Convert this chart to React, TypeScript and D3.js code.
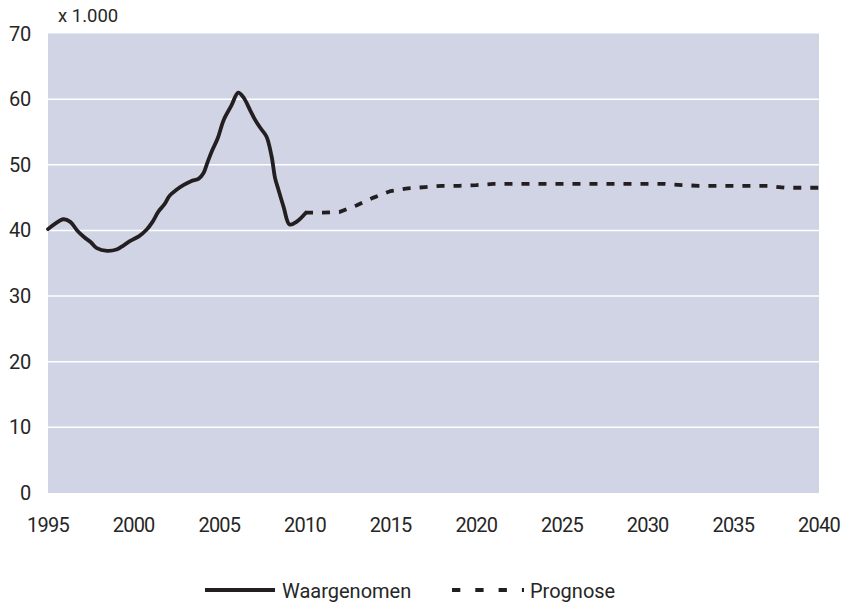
import { useEffect, useRef } from 'react';
import * as d3 from 'd3';

const observedYears = [
    1995.0, 1995.4, 1995.9, 1996.3, 1996.7, 1997.1, 1997.5, 1997.85, 1998.45, 1999.0,
    1999.4, 1999.8, 2000.3, 2000.75, 2001.1, 2001.45, 2001.8, 2002.1, 2002.5, 2002.9,
    2003.35, 2003.8, 2004.07, 2004.3, 2004.55, 2004.9, 2005.25, 2005.7, 2006.1, 2006.4,
    2006.8, 2007.1, 2007.4, 2007.75, 2008.05, 2008.25, 2008.45, 2008.75, 2009.1, 2009.5,
    2010.05,
];
const observedValues = [
    40.2, 41.0, 41.7, 41.3, 40.0, 39.0, 38.2, 37.3, 36.9, 37.1,
    37.7, 38.4, 39.1, 40.1, 41.3, 42.9, 44.0, 45.3, 46.2, 46.9,
    47.5, 47.9, 48.7, 50.3, 52.0, 54.0, 56.8, 59.0, 61.0, 60.3,
    58.3, 56.8, 55.6, 54.3, 51.3, 48.0, 46.2, 43.6, 40.9, 41.3,
    42.7,
];

const forecastYears = [
    2010, 2011, 2012, 2013, 2014, 2015, 2016, 2017, 2018, 2019,
    2020, 2021, 2022, 2023, 2024, 2025, 2026, 2027, 2028, 2029,
    2030, 2031, 2032, 2033, 2034, 2035, 2036, 2037, 2038, 2039,
    2040,
];
const forecastValues = [
    42.7, 42.7, 42.8, 43.8, 45.0, 46.0, 46.4, 46.6, 46.8, 46.8,
    46.9, 47.1, 47.1, 47.1, 47.1, 47.1, 47.1, 47.1, 47.1, 47.1,
    47.1, 47.1, 46.9, 46.8, 46.8, 46.8, 46.8, 46.8, 46.5, 46.5,
    46.5,
];

const yTicks = [0, 10, 20, 30, 40, 50, 60, 70];
const xTicks = [1995, 2000, 2005, 2010, 2015, 2020, 2025, 2030, 2035, 2040];
const legendLabels = ['Waargenomen', 'Prognose'];

const W = 841;
const H = 602;
const FONT = 'Roboto, "Noto Sans", sans-serif';
const TEXT = '#262626';
const LINE = '#231f20';

function App() {
    const ref = useRef(null);

    useEffect(() => {
        const svg = d3.select(ref.current);
        svg.selectAll('*').remove();

        const left = 48, right = 819, top = 33.5, bottom = 493;

        const x = d3.scaleLinear().domain([1995, 2040]).range([left, right]);
        const y = d3.scaleLinear().domain([0, 70]).range([bottom, top]);

        svg.append('rect')
            .attr('x', left).attr('y', top)
            .attr('width', right - left).attr('height', bottom - top)
            .attr('fill', '#d0d4e5');

        svg.append('g')
            .selectAll('line')
            .data(yTicks.slice(1, -1))
            .enter()
            .append('line')
            .attr('x1', left).attr('x2', right)
            .attr('y1', (d) => y(d)).attr('y2', (d) => y(d))
            .attr('stroke', '#ffffff')
            .attr('stroke-width', 1.5);

        svg.append('g')
            .selectAll('text')
            .data(yTicks)
            .enter()
            .append('text')
            .attr('x', 31)
            .attr('y', (d) => y(d) + 7)
            .attr('text-anchor', 'end')
            .attr('font-family', FONT)
            .attr('font-size', 20)
            .attr('letter-spacing', -0.3)
            .attr('fill', TEXT)
            .text((d) => d);

        svg.append('text')
            .attr('x', 58).attr('y', 22)
            .attr('font-family', FONT)
            .attr('font-size', 18.5)
            .attr('fill', TEXT)
            .text('x 1.000');

        svg.append('g')
            .selectAll('text')
            .data(xTicks)
            .enter()
            .append('text')
            .attr('x', (d) => x(d))
            .attr('y', 532)
            .attr('text-anchor', 'middle')
            .attr('font-family', FONT)
            .attr('font-size', 20)
            .attr('letter-spacing', -0.8)
            .attr('fill', TEXT)
            .text((d) => d);

        const line = d3.line<[number, number]>()
            .x((d) => x(d[0]))
            .y((d) => y(d[1]));

        const observed = observedYears.map((yr, i) => [yr, observedValues[i]] as [number, number]);
        const forecast = forecastYears.map((yr, i) => [yr, forecastValues[i]] as [number, number]);

        svg.append('path')
            .datum(forecast)
            .attr('d', line)
            .attr('fill', 'none')
            .attr('stroke', LINE)
            .attr('stroke-width', 3.8)
            .attr('stroke-dasharray', '8,9');

        svg.append('path')
            .datum(observed)
            .attr('d', line.curve(d3.curveCatmullRom.alpha(0.5)))
            .attr('fill', 'none')
            .attr('stroke', LINE)
            .attr('stroke-width', 3.8)
            .attr('stroke-linejoin', 'round')
            .attr('stroke-linecap', 'round');

        // legend
        const lg = svg.append('g');
        lg.append('line')
            .attr('x1', 205).attr('x2', 275).attr('y1', 590).attr('y2', 590)
            .attr('stroke', LINE).attr('stroke-width', 3.8);
        lg.append('text')
            .attr('x', 282).attr('y', 598)
            .attr('font-family', FONT).attr('font-size', 20).attr('fill', TEXT)
            .text(legendLabels[0]);
        lg.append('line')
            .attr('x1', 452).attr('x2', 524).attr('y1', 590).attr('y2', 590)
            .attr('stroke', LINE).attr('stroke-width', 3.8)
            .attr('stroke-dasharray', '8.3,15');
        lg.append('text')
            .attr('x', 530).attr('y', 598)
            .attr('font-family', FONT).attr('font-size', 20).attr('fill', TEXT)
            .text(legendLabels[1]);
    }, []);

    return (
        <svg
            ref={ref}
            width={W}
            height={H}
            style={{ position: 'absolute', left: 0, top: 0, background: '#ffffff' }}
        ></svg>
    );
}

export default App;
